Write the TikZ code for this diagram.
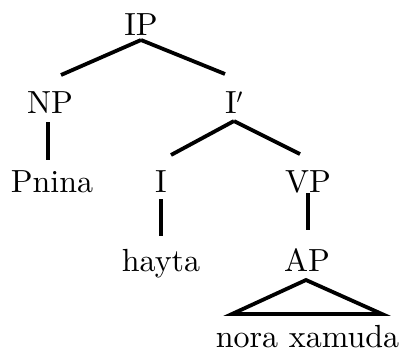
\documentclass[tikz,border=0pt]{standalone}
\usepackage{fontspec}
\setmainfont{lmroman10-regular}[Extension=.otf]
\begin{document}
\begin{tikzpicture}[x=1pt,y=-1pt,
  lab/.style={anchor=base,inner sep=0pt,font=\fontsize{32}{38}\selectfont},
  edge/.style={line width=3.8pt}]
\useasboundingbox (0,0) rectangle (404,349);
\node[lab] (IP) at (141,35) {IP};
\node[lab] (NP) at (50,113) {NP};
\node[lab] (Ib) at (234,113) {I$'$};
\node[lab] (Pn) at (52,192) {Pnina};
\node[lab] (I) at (161,192) {I};
\node[lab] (VP) at (308,192) {VP};
\node[lab] (hy) at (161,271) {hayta};
\node[lab] (AP) at (307,271) {AP};
\node[lab] (nx) at (307.5,347) {nora xamuda};
\draw[edge] ([shift={(0,5)}]IP.base) -- ([shift={(11,-38)}]NP.base);
\draw[edge] ([shift={(0,5)}]IP.base) -- ([shift={(-9,-39)}]Ib.base);
\draw[edge] ([shift={(-2,9)}]NP.base) -- ([shift={(-4,-32)}]Pn.base);
\draw[edge] ([shift={(0,8)}]Ib.base) -- ([shift={(10,-37)}]I.base);
\draw[edge] ([shift={(0,8)}]Ib.base) -- ([shift={(-8,-38)}]VP.base);
\draw[edge] ([shift={(0,7)}]I.base) -- ([shift={(0,-35)}]hy.base);
\draw[edge] ([shift={(0,1)}]VP.base) -- ([shift={(1,-41)}]AP.base);
\draw[edge,line join=miter] ([shift={(-1,9)}]AP.base) -- ([shift={(-75.5,-33)}]nx.base) -- ([shift={(74.5,-33)}]nx.base) -- cycle;
\end{tikzpicture}
\end{document}
